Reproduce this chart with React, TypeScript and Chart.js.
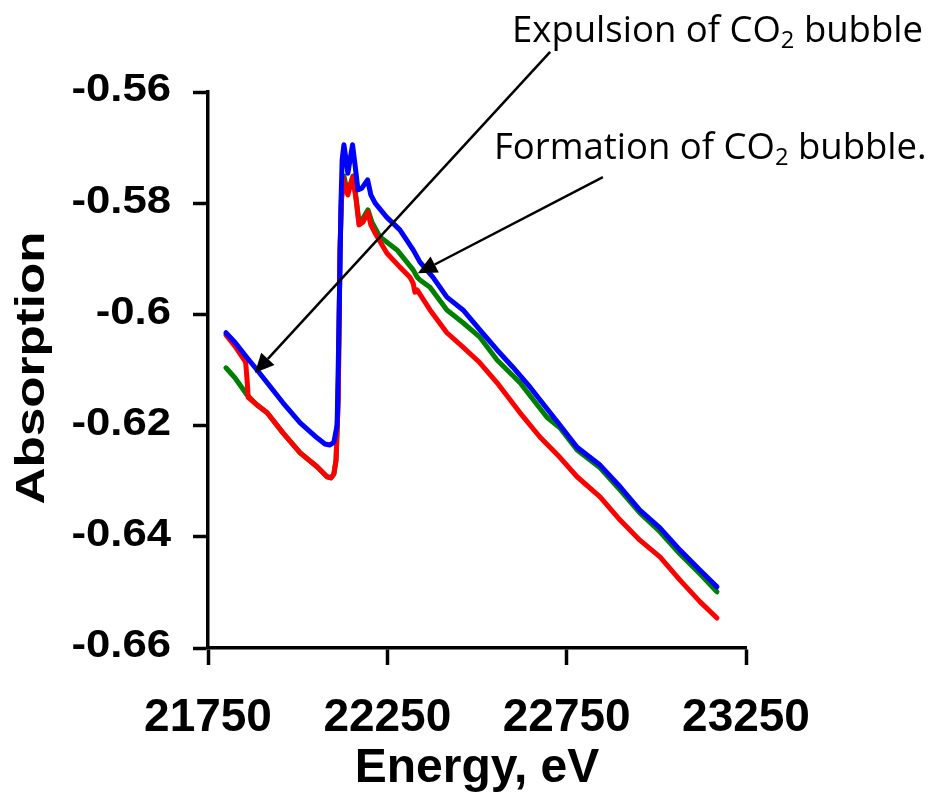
import React, { useEffect, useRef } from "react";
import { Chart, registerables } from "chart.js";

Chart.register(...registerables);

// ---- Data (Energy in eV, Absorption) ----
const blueEnergy = [21800, 21825, 21859, 21887, 21915, 21959, 22007, 22054, 22076, 22090, 22101, 22110, 22115, 22121, 22124, 22129, 22135, 22140, 22146, 22153, 22160, 22168, 22179, 22195, 22204, 22216, 22248, 22285, 22322, 22341, 22377, 22416, 22461, 22508, 22556, 22600, 22648, 22704, 22731, 22779, 22843, 22899, 22954, 23010, 23066, 23122, 23169];
const blueAbs = [-0.6033, -0.605, -0.6078, -0.61, -0.6123, -0.6159, -0.6195, -0.6222, -0.6233, -0.6235, -0.623, -0.6199, -0.6028, -0.5794, -0.5722, -0.5695, -0.5722, -0.5746, -0.5722, -0.5695, -0.5731, -0.5776, -0.5773, -0.5758, -0.5785, -0.58, -0.5825, -0.5848, -0.5884, -0.5906, -0.5933, -0.5969, -0.5992, -0.6028, -0.6064, -0.6095, -0.6131, -0.6177, -0.6199, -0.6239, -0.6271, -0.631, -0.6352, -0.6384, -0.6424, -0.646, -0.649];

const redEnergy = [21800, 21825, 21855, 21859, 21862, 21887, 21915, 21959, 22007, 22054, 22082, 22093, 22101, 22107, 22113, 22118, 22122, 22127, 22133, 22140, 22147, 22154, 22163, 22171, 22182, 22196, 22204, 22216, 22249, 22285, 22313, 22322, 22327, 22333, 22369, 22416, 22461, 22508, 22556, 22620, 22676, 22731, 22779, 22843, 22899, 22954, 23010, 23066, 23122, 23169];
const redAbs = [-0.6037, -0.6057, -0.6086, -0.6118, -0.6149, -0.6163, -0.6177, -0.6213, -0.6249, -0.6274, -0.6292, -0.6294, -0.6287, -0.6262, -0.6154, -0.5884, -0.5794, -0.5755, -0.5773, -0.5785, -0.5767, -0.5753, -0.5794, -0.5839, -0.5834, -0.5816, -0.5839, -0.5854, -0.589, -0.5915, -0.5933, -0.5944, -0.596, -0.5956, -0.5992, -0.6033, -0.6059, -0.6087, -0.6123, -0.6177, -0.6221, -0.6257, -0.6292, -0.6328, -0.637, -0.6406, -0.6436, -0.6478, -0.6517, -0.6546];

const greenEnergy = [21800, 21825, 21859, 21887, 21915, 21959, 22007, 22054, 22082, 22093, 22101, 22107, 22113, 22118, 22122, 22129, 22135, 22140, 22149, 22154, 22163, 22171, 22182, 22196, 22207, 22230, 22277, 22322, 22333, 22341, 22369, 22416, 22461, 22508, 22556, 22620, 22695, 22731, 22779, 22843, 22899, 22954, 23010, 23066, 23122, 23169];
const greenAbs = [-0.6096, -0.6114, -0.6145, -0.6163, -0.6177, -0.6213, -0.6249, -0.6274, -0.6292, -0.6294, -0.6287, -0.6262, -0.6154, -0.5884, -0.5794, -0.5751, -0.5769, -0.578, -0.5762, -0.5751, -0.5791, -0.5834, -0.5827, -0.5812, -0.5834, -0.5861, -0.5884, -0.592, -0.5933, -0.5938, -0.5951, -0.5992, -0.6015, -0.6041, -0.6082, -0.6123, -0.6185, -0.6204, -0.6244, -0.6276, -0.6316, -0.6357, -0.6391, -0.6431, -0.6467, -0.6499];

const xTickValues = [21750, 22250, 22750, 23250];
const yTickValues = [-0.56, -0.58, -0.6, -0.62, -0.64, -0.66];

const xTitle = "Energy, eV";
const yTitle = "Absorption";

// Annotation arrows: [startEnergy, startAbs, tipEnergy, tipAbs]
const expulsionArrow = [22704, -0.5528, 21881, -0.6105];
const formationArrow = [22851, -0.5753, 22335, -0.5926];

const toPoints = (xs: number[], ys: number[]) => xs.map((x, i) => ({ x, y: ys[i] }));
const fmtY = (v: number) => String(Number(v.toFixed(2)));

const customDrawPlugin = {
  id: "customDraw",
  afterDraw(chart: any) {
    const ctx = chart.ctx as CanvasRenderingContext2D;
    const ys = chart.scales.y;
    const xs = chart.scales.x;
    const area = chart.chartArea;
    ctx.save();
    ctx.fillStyle = "#000";
    // y tick labels (stretched horizontally like the original)
    ctx.font = 'bold 38px "Liberation Sans", Arial, sans-serif';
    ctx.textAlign = "right";
    ctx.textBaseline = "middle";
    ys.ticks.forEach((t: any, i: number) => {
      const y = ys.getPixelForTick(i);
      ctx.save();
      ctx.translate(area.left - 37, y - 1);
      ctx.scale(1.15, 1);
      ctx.fillText(fmtY(t.value), 0, 0);
      ctx.restore();
    });
    // y title
    ctx.save();
    ctx.translate(33, (area.top + area.bottom) / 2 - 2);
    ctx.rotate(-Math.PI / 2);
    ctx.scale(1.28, 1);
    ctx.font = 'bold 40px "Liberation Sans", Arial, sans-serif';
    ctx.textAlign = "center";
    ctx.textBaseline = "middle";
    ctx.fillText(yTitle, 0, 0);
    ctx.restore();

    // arrows
    const drawArrow = (a: number[]) => {
      const x1 = xs.getPixelForValue(a[0]);
      const y1 = ys.getPixelForValue(a[1]);
      const x2 = xs.getPixelForValue(a[2]);
      const y2 = ys.getPixelForValue(a[3]);
      const ang = Math.atan2(y2 - y1, x2 - x1);
      const L = 19;
      const W = 9;
      const bx = x2 - L * Math.cos(ang);
      const by = y2 - L * Math.sin(ang);
      ctx.strokeStyle = "#000";
      ctx.lineWidth = 2.5;
      ctx.beginPath();
      ctx.moveTo(x1, y1);
      ctx.lineTo(bx, by);
      ctx.stroke();
      ctx.beginPath();
      ctx.moveTo(x2, y2);
      ctx.lineTo(bx + W * Math.sin(ang), by - W * Math.cos(ang));
      ctx.lineTo(bx - W * Math.sin(ang), by + W * Math.cos(ang));
      ctx.closePath();
      ctx.fill();
    };
    drawArrow(expulsionArrow);
    drawArrow(formationArrow);
    ctx.restore();
  },
};

export default function App() {
  const canvasRef = useRef<HTMLCanvasElement | null>(null);

  useEffect(() => {
    if (!canvasRef.current) return;
    const lineDs = (label: string, color: string, xs: number[], ys: number[]) => ({
      label,
      data: toPoints(xs, ys),
      borderColor: color,
      backgroundColor: color,
      borderWidth: 5,
      pointRadius: 0,
      tension: 0,
      fill: false,
      borderJoinStyle: "round" as const,
      borderCapStyle: "round" as const,
    });
    const chart = new Chart(canvasRef.current, {
      type: "line",
      data: {
        datasets: [
          lineDs("Blue", "#0000FF", blueEnergy, blueAbs),
          lineDs("Red", "#FF0000", redEnergy, redAbs),
          lineDs("Green", "#008000", greenEnergy, greenAbs),
        ],
      },
      options: {
        animation: false,
        responsive: false,
        devicePixelRatio: 1,
        parsing: false as any,
        layout: { padding: { left: 0, top: 92, right: 186, bottom: 0 } },
        plugins: {
          legend: { display: false },
          tooltip: { enabled: false },
        },
        scales: {
          x: {
            type: "linear",
            min: 21750,
            max: 23250,
            afterBuildTicks: (s: any) => {
              s.ticks = xTickValues.map((v) => ({ value: v }));
            },
            afterFit: (s: any) => {
              s.height = 145;
            },
            border: { display: true, color: "#000", width: 3.5 },
            grid: {
              display: true,
              drawOnChartArea: false,
              drawTicks: true,
              tickLength: 17,
              tickWidth: 3.5,
              tickColor: "#000",
            },
            ticks: {
              autoSkip: false,
              maxRotation: 0,
              padding: 26,
              color: "#000",
              font: { family: '"Liberation Sans", Arial, sans-serif', size: 46, weight: "bold" },
              callback: (v: any) => String(Math.round(Number(v))),
            },
            title: {
              display: true,
              text: xTitle,
              color: "#000",
              padding: 0,
              font: { family: '"Liberation Sans", Arial, sans-serif', size: 48, weight: "bold", lineHeight: 1 },
            },
          },
          y: {
            type: "linear",
            min: -0.66,
            max: -0.56,
            afterBuildTicks: (s: any) => {
              s.ticks = yTickValues.map((v) => ({ value: v }));
            },
            afterFit: (s: any) => {
              s.width = 208;
            },
            border: { display: true, color: "#000", width: 3.5 },
            grid: {
              display: true,
              drawOnChartArea: false,
              drawTicks: true,
              tickLength: 15,
              tickWidth: 3.5,
              tickColor: "#000",
            },
            ticks: { display: false },
            title: { display: false },
          },
        },
      },
      plugins: [customDrawPlugin],
    });
    return () => chart.destroy();
  }, []);

  const annStyle: React.CSSProperties = {
    position: "absolute",
    fontFamily: '"Open Sans", "Noto Sans", sans-serif',
    fontSize: 36.5,
    lineHeight: 1,
    whiteSpace: "nowrap",
    color: "#000",
  };
  const subStyle: React.CSSProperties = {
    fontSize: "0.65em",
    verticalAlign: "-0.25em",
    lineHeight: 0,
  };

  return (
    <div style={{ position: "fixed", left: 0, top: 0, width: 932, height: 793, background: "#fff" }}>
      <canvas ref={canvasRef} width={932} height={793} style={{ display: "block" }} />
      <div style={{ ...annStyle, left: 512, top: 10 }}>
        Expulsion of CO<sub style={subStyle}>2</sub> bubble
      </div>
      <div style={{ ...annStyle, left: 494, top: 127 }}>
        Formation of CO<sub style={subStyle}>2</sub> bubble.
      </div>
    </div>
  );
}
